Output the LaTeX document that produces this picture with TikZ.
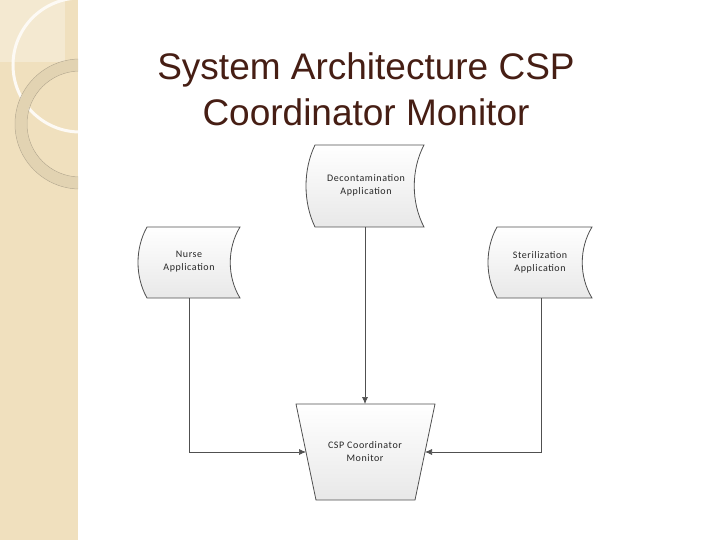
\documentclass[tikz,border=0pt]{standalone}
\usepackage{fontspec}
\setmainfont{Liberation Sans}
\newfontfamily\boxfont[LetterSpace=6]{Carlito}
\usetikzlibrary{arrows.meta}
\definecolor{strip}{RGB}{240,224,190}
\definecolor{titlec}{RGB}{70,30,20}
\definecolor{edge}{RGB}{80,80,80}
\tikzset{
  sd/.style={draw=edge, line width=0.8pt, top color=white, bottom color=gray!18},
  lbl/.style={font=\boxfont\fontsize{10}{13}\selectfont, align=center, text=black!85},
  conn/.style={draw=edge, line width=0.7pt, -{Latex[length=7pt,width=6pt]}}
}
\newcommand{\storeddata}[5]{% name,l,t,r,b
  \path[sd] ({#2+9},#3) -- (#4,#3) .. controls ({#4-13},{#3+0.3*(#5-#3)}) and ({#4-13},{#3+0.7*(#5-#3)}) .. (#4,#5)
   -- ({#2+9},#5) .. controls ({#2-3},{#3+0.7*(#5-#3)}) and ({#2-3},{#3+0.3*(#5-#3)}) .. ({#2+9},#3) -- cycle;
  \coordinate (#1) at ({(#2+#4)/2},{(#3+#5)/2});
}
\begin{document}
\begin{tikzpicture}[x=1pt,y=-1pt]
\useasboundingbox (0,0) rectangle (720,540);
\fill[white] (0,0) rectangle (720,540);
\fill[strip] (0,0) rectangle (78,540);
\begin{scope}
\clip (0,0) rectangle (78,540);
\fill[white,opacity=0.3] (0,0) rectangle (65,62);
\draw[white!85!strip,line width=3pt] (80,65) circle (67);
\fill[black!6!strip,even odd rule] (80,124) circle (64.5) (80,124) circle (53.5);
\draw[black!25!strip,line width=0.5pt] (80,124) circle (65);
\draw[black!25!strip,line width=0.5pt] (80,124) circle (53);
\end{scope}
\node[text=titlec,font=\fontsize{37}{46}\selectfont,align=center] (title) at (366,89) {System Architecture CSP\\Coordinator Monitor};
\storeddata{dec}{306}{145}{424}{227}
\storeddata{nur}{138}{227}{240}{298}
\storeddata{ste}{488}{227}{592}{298}
\node[lbl] (decl) at (366,185) {Decontamination\\Application};
\node[lbl] (nurl) at (189,262) {Nurse\\Application};
\node[lbl] (stel) at (540,262) {Sterilization\\Application};
\path[sd] (296,404) -- (435,404) -- (415,500) -- (316,500) -- cycle;
\node[lbl] (csp) at (365,452) {CSP Coordinator\\Monitor};
\coordinate (decb) at (365,227);
\coordinate (cspt) at (365,404);
\coordinate (nurb) at (189,298);
\coordinate (steb) at (541,298);
\coordinate (cspl) at (306,452);
\coordinate (cspr) at (425,452);
\draw[conn] (decb) -- (cspt);
\draw[conn] (nurb) |- (cspl);
\draw[conn] (steb) |- (cspr);
\end{tikzpicture}
\end{document}
